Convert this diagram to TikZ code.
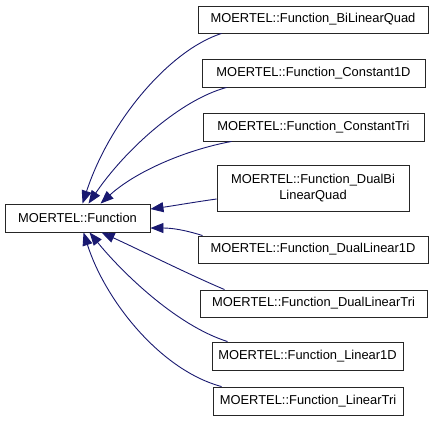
\documentclass[tikz,border=0pt]{standalone}
\usepackage{fontspec}
\setmainfont{Liberation Sans}
\usetikzlibrary{calc,arrows.meta}
\definecolor{edgeblue}{HTML}{191970}
\begin{document}
\begin{tikzpicture}[
  box/.style={draw=black!85,line width=0.9pt,fill=white,inner sep=0pt,align=center,font=\fontsize{12.9}{15}\selectfont},
  inh/.style={color=edgeblue,line width=0.9pt,-{Triangle[length=13pt,width=10pt]}}]
\begin{scope}[x=1pt,y=-1pt]
\useasboundingbox (0,0) rectangle (435,429);
\node[box,minimum width=145pt,minimum height=28pt] (base) at (77.5,218) {MOERTEL::Function};
\node[box,minimum width=230pt,minimum height=27pt] (c1) at (313,19.5) {MOERTEL::Function\_BiLinearQuad};
\node[box,minimum width=223pt,minimum height=28pt] (c2) at (313.5,73) {MOERTEL::Function\_Constant1D};
\node[box,minimum width=221pt,minimum height=28pt] (c3) at (313.5,127) {MOERTEL::Function\_ConstantTri};
\node[box,minimum width=192pt,minimum height=46pt] (c4) at (313,188) {MOERTEL::Function\_DualBi\\[1pt]LinearQuad};
\node[box,minimum width=230pt,minimum height=27pt] (c5) at (313,249.5) {MOERTEL::Function\_DualLinear1D};
\node[box,minimum width=227pt,minimum height=27pt] (c6) at (313.5,303.5) {MOERTEL::Function\_DualLinearTri};
\node[box,minimum width=191pt,minimum height=28pt] (c7) at (307.5,356) {MOERTEL::Function\_Linear1D};
\node[box,minimum width=190pt,minimum height=28pt] (c8) at (308,401) {MOERTEL::Function\_LinearTri};
\coordinate (p1) at (170,50); \coordinate (q1) at (110,120);
\coordinate (p2) at (180,100); \coordinate (q2) at (125,150);
\coordinate (p3) at (185,150); \coordinate (q3) at (135,172);
\coordinate (p4) at (195,202); \coordinate (q4) at (172,206);
\coordinate (p5) at (185,230); \coordinate (q5) at (172,228);
\coordinate (p6) at (190,275); \coordinate (q6) at (140,250);
\coordinate (p7) at (175,325); \coordinate (q7) at (120,270);
\coordinate (p8) at (160,370); \coordinate (q8) at (105,300);
\end{scope}
\draw[inh] ($(c1.south west)+(24pt,0)$) .. controls (p1) and (q1) .. ($(base.north west)+(78pt,0)$);
\draw[inh] ($(c2.south west)+(25pt,0)$) .. controls (p2) and (q2) .. ($(base.north west)+(84pt,0)$);
\draw[inh] ($(c3.south west)+(29pt,0)$) .. controls (p3) and (q3) .. ($(base.north west)+(96pt,0)$);
\draw[inh] ($(c4.west)+(0,-11pt)$) .. controls (p4) and (q4) .. ($(base.east)+(0,9pt)$);
\draw[inh] ($(c5.north west)+(5pt,0)$) .. controls (p5) and (q5) .. ($(base.east)+(0,-10pt)$);
\draw[inh] ($(c6.north west)+(25pt,0)$) .. controls (p6) and (q6) .. ($(base.south west)+(97pt,0)$);
\draw[inh] ($(c7.north west)+(16pt,0)$) .. controls (p7) and (q7) .. ($(base.south west)+(85pt,0)$);
\draw[inh] ($(c8.north west)+(9pt,0)$) .. controls (p8) and (q8) .. ($(base.south west)+(79pt,0)$);
\end{tikzpicture}
\end{document}
